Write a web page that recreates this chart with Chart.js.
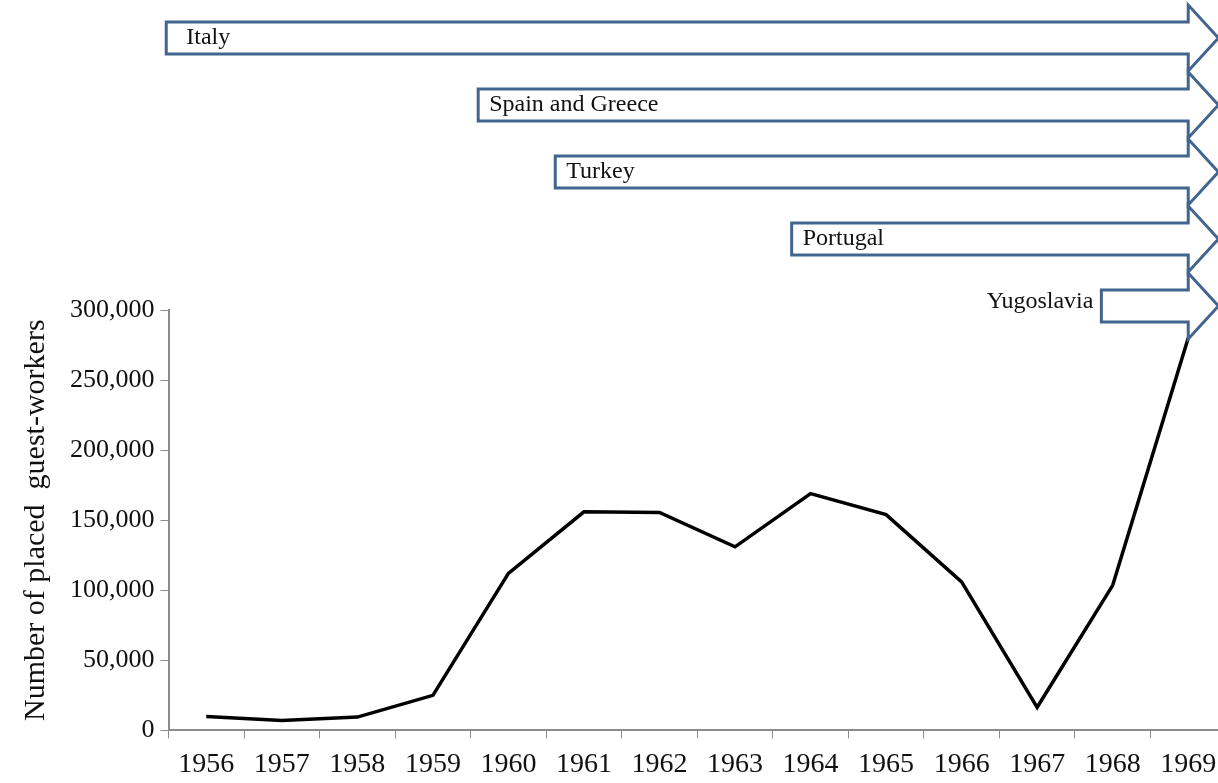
<!DOCTYPE html>
<html>
<head>
<meta charset="utf-8">
<script src="https://cdn.jsdelivr.net/npm/chart.js@4/dist/chart.umd.min.js"></script>
<style>
  html, body { margin: 0; padding: 0; background: #fff; overflow: hidden; }
  #wrap { width: 1228px; height: 792px; position: relative; }
</style>
</head>
<body>
<div id="wrap"><canvas id="guest-chart"></canvas></div>
<script>
// Guest-workers placed per year
const years = ['1956', '1957', '1958', '1959', '1960', '1961', '1962', '1963', '1964', '1965', '1966', '1967', '1968', '1969'];
const placedWorkers = [10000, 7000, 9500, 25000, 112000, 156000, 155500, 131000, 169000, 154000, 106000, 16500, 103500, 280000];
const yTicks = [0, 50000, 100000, 150000, 200000, 250000, 300000];

// Recruitment agreements, drawn as arrows running to 1969
const countries = ['Italy', 'Spain and Greece', 'Turkey', 'Portugal', 'Yugoslavia'];
const agreementStart = [1955.47, 1959.6, 1960.62, 1963.75, 1967.85];

const serif = "'Liberation Serif', 'Times New Roman', serif";
const axisGray = '#8c8c8c';
const arrowBlue = '#41658f';

const arrowPlugin = {
    id: 'agreementArrows',
    afterDatasetsDraw(chart) {
        const ctx = chart.ctx;
        const x = chart.scales.x;
        const xEnd = x.getPixelForValue(years.length - 1);
        const xTip = x.getPixelForValue(years.length - 1 + 0.4);
        ctx.save();
        ctx.lineWidth = 3;
        ctx.strokeStyle = arrowBlue;
        ctx.lineJoin = 'miter';
        countries.forEach((name, i) => {
            const cy = 38 + i * 67;
            const x0 = x.getPixelForValue(agreementStart[i] - 1956);
            ctx.beginPath();
            ctx.moveTo(x0, cy - 16);
            ctx.lineTo(xEnd, cy - 16);
            ctx.lineTo(xEnd, cy - 33);
            ctx.lineTo(xTip, cy);
            ctx.lineTo(xEnd, cy + 33);
            ctx.lineTo(xEnd, cy + 16);
            ctx.lineTo(x0, cy + 16);
            ctx.closePath();
            ctx.fillStyle = '#fff';
            ctx.fill();
            ctx.stroke();

            ctx.fillStyle = '#111';
            ctx.font = '24px ' + serif;
            ctx.textBaseline = 'middle';
            if (name === 'Yugoslavia') {
                ctx.textAlign = 'right';
                ctx.fillText(name, x0 - 8, cy - 4);
            } else {
                ctx.textAlign = 'left';
                ctx.fillText(name, x0 + (i === 0 ? 20 : 11), cy);
            }
        });
        ctx.restore();
    }
};

new Chart(document.getElementById('guest-chart'), {
    type: 'line',
    data: {
        labels: years,
        datasets: [{
            data: placedWorkers,
            borderColor: '#000',
            borderWidth: 3.5,
            pointRadius: 0,
            tension: 0,
            fill: false
        }]
    },
    options: {
        responsive: true,
        maintainAspectRatio: false,
        animation: false,
        layout: { padding: { top: 310, right: 2, bottom: 2, left: 18 } },
        plugins: {
            legend: { display: false },
            tooltip: { enabled: false }
        },
        scales: {
            x: {
                offset: true,
                grid: { offset: true, drawOnChartArea: false, color: axisGray, tickLength: 8 },
                border: { color: axisGray, width: 2 },
                ticks: { color: '#111', font: { size: 28, family: serif }, padding: 9, maxRotation: 0, autoSkip: false }
            },
            y: {
                min: 0,
                max: 300000,
                afterBuildTicks: (axis) => { axis.ticks = yTicks.map(v => ({ value: v })); },
                grid: { drawOnChartArea: false, color: axisGray, tickLength: 8 },
                border: { color: axisGray, width: 2 },
                ticks: {
                    color: '#111',
                    font: { size: 26, family: serif },
                    padding: 6,
                    callback: (v) => v.toLocaleString('en-US')
                },
                title: {
                    display: true,
                    text: 'Number of placed  guest-workers',
                    color: '#111',
                    font: { size: 30, family: serif },
                    padding: { top: 0, bottom: 10 }
                }
            }
        }
    },
    plugins: [arrowPlugin]
});
</script>
</body>
</html>
